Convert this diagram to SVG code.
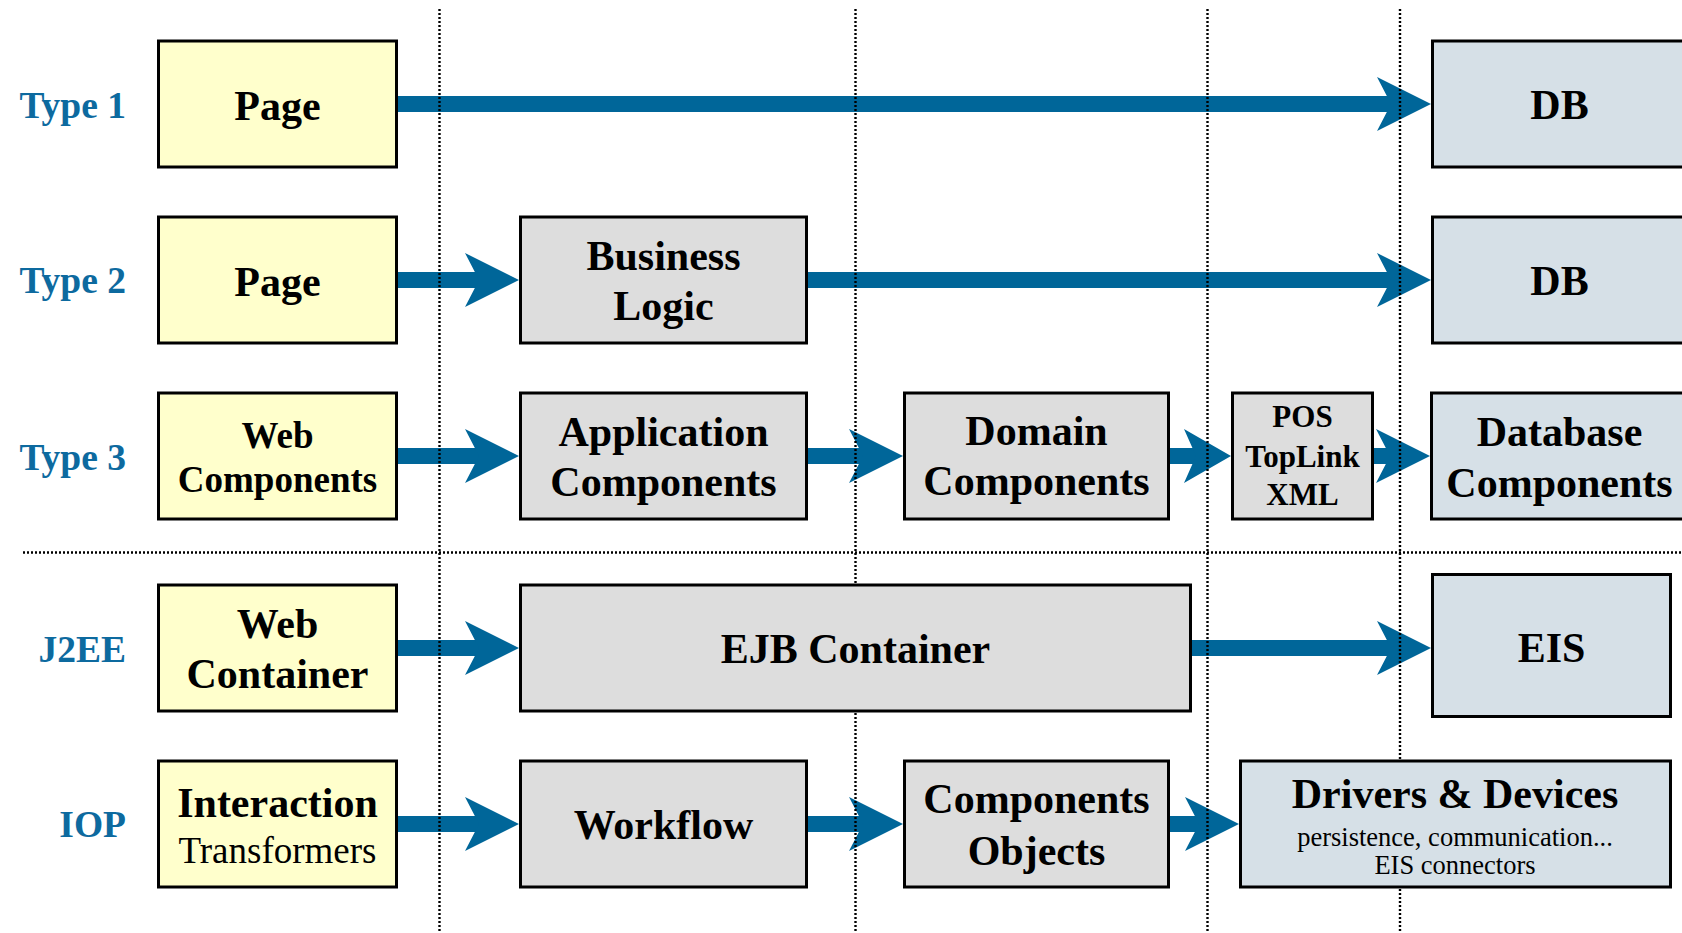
<svg xmlns="http://www.w3.org/2000/svg" width="1682" height="933" viewBox="0 0 1682 933">
  <style>
    .lbl { font-family: "Liberation Serif", "Times New Roman", serif; font-weight: bold; font-size: 37.5px; fill: #0d6a9f; text-anchor: end; }
    .t { font-family: "Liberation Serif", "Times New Roman", serif; font-weight: bold; font-size: 42px; fill: #000; text-anchor: middle; }
    .t37 { font-size: 37px; }
    .t31 { font-size: 31px; }
    .t41 { font-size: 42px; }
    .reg { font-weight: normal; }
    .sub { font-weight: normal; font-size: 26.5px; }
    .box { stroke: #000; stroke-width: 3; }
    .yellow { fill: #ffffcc; }
    .grey { fill: #dddddd; }
    .blue { fill: #d6e0e7; }
    .grid { stroke: #000; stroke-width: 2.4; stroke-dasharray: 2 2; fill: none; }
    .conn { stroke: #006699; stroke-width: 16; fill: none; }
  </style>
  <defs>
    <marker id="head" markerUnits="userSpaceOnUse" viewBox="0 0 54 54" markerWidth="54" markerHeight="54" refX="14" refY="27" orient="auto">
      <path d="M0,0 L54,27 L0,54 L14,27 Z" fill="#006699"/>
    </marker>
    <marker id="head-s" markerUnits="userSpaceOnUse" viewBox="0 0 47 54" markerWidth="47" markerHeight="54" refX="12" refY="27" orient="auto">
      <path d="M0,0 L47,27 L0,54 L12,27 Z" fill="#006699"/>
    </marker>
  </defs>
  <rect width="1682" height="933" fill="#fff"/>

  <!-- row labels -->
  <g id="labels">
    <text class="lbl" x="126" y="118">Type 1</text>
    <text class="lbl" x="126" y="293">Type 2</text>
    <text class="lbl" x="126" y="470">Type 3</text>
    <text class="lbl" x="126" y="662">J2EE</text>
    <text class="lbl" x="126" y="837">IOP</text>
  </g>

  <!-- connectors: each line stops at the arrowhead notch -->
  <g id="connectors" class="conn">
    <line x1="398" y1="104" x2="1391" y2="104" marker-end="url(#head)"/>
    <line x1="398" y1="280" x2="479" y2="280" marker-end="url(#head)"/>
    <line x1="808" y1="280" x2="1391" y2="280" marker-end="url(#head)"/>
    <line x1="398" y1="456" x2="479" y2="456" marker-end="url(#head)"/>
    <line x1="808" y1="456" x2="863" y2="456" marker-end="url(#head)"/>
    <line x1="1170" y1="456" x2="1196" y2="456" marker-end="url(#head-s)"/>
    <line x1="1374" y1="456" x2="1390" y2="456" marker-end="url(#head)"/>
    <line x1="398" y1="648" x2="479" y2="648" marker-end="url(#head)"/>
    <line x1="1192" y1="648" x2="1391" y2="648" marker-end="url(#head)"/>
    <line x1="398" y1="824" x2="479" y2="824" marker-end="url(#head)"/>
    <line x1="808" y1="824" x2="863" y2="824" marker-end="url(#head)"/>
    <line x1="1170" y1="824" x2="1199" y2="824" marker-end="url(#head)"/>
  </g>

  <!-- dotted tier separators -->
  <g id="grid" class="grid">
    <line x1="439.5" y1="9" x2="439.5" y2="933"/>
    <line x1="855.5" y1="9" x2="855.5" y2="933"/>
    <line x1="1207.5" y1="9" x2="1207.5" y2="933"/>
    <line x1="1400" y1="9" x2="1400" y2="933"/>
    <line x1="23" y1="552.5" x2="1682" y2="552.5"/>
  </g>

  <!-- Type 1 -->
  <g id="t1-page">
    <rect class="box yellow" x="158.5" y="41" width="238" height="126"/>
    <text class="t" x="277.5" y="120">Page</text>
  </g>
  <g id="t1-db">
    <rect class="box blue" x="1432.5" y="41" width="260" height="126"/>
    <text class="t" x="1559.5" y="119">DB</text>
  </g>

  <!-- Type 2 -->
  <g id="t2-page">
    <rect class="box yellow" x="158.5" y="217" width="238" height="126"/>
    <text class="t" x="277.5" y="296">Page</text>
  </g>
  <g id="t2-business">
    <rect class="box grey" x="520.5" y="217" width="286" height="126"/>
    <text class="t" x="663.5" y="270">Business</text>
    <text class="t" x="663.5" y="320">Logic</text>
  </g>
  <g id="t2-db">
    <rect class="box blue" x="1432.5" y="217" width="260" height="126"/>
    <text class="t" x="1559.5" y="295">DB</text>
  </g>

  <!-- Type 3 -->
  <g id="t3-web">
    <rect class="box yellow" x="158.5" y="393" width="238" height="126"/>
    <text class="t t37" x="277.5" y="448">Web</text>
    <text class="t t37" x="277.5" y="492">Components</text>
  </g>
  <g id="t3-app">
    <rect class="box grey" x="520.5" y="393" width="286" height="126"/>
    <text class="t" x="663.5" y="446">Application</text>
    <text class="t" x="663.5" y="496">Components</text>
  </g>
  <g id="t3-domain">
    <rect class="box grey" x="904.5" y="393" width="264" height="126"/>
    <text class="t" x="1036.5" y="445">Domain</text>
    <text class="t" x="1036.5" y="495">Components</text>
  </g>
  <g id="t3-pos">
    <rect class="box grey" x="1232.5" y="393" width="140" height="126"/>
    <text class="t t31" x="1302.5" y="427">POS</text>
    <text class="t t31" x="1302.5" y="467">TopLink</text>
    <text class="t t31" x="1302.5" y="505">XML</text>
  </g>
  <g id="t3-database">
    <rect class="box blue" x="1431.5" y="393" width="260" height="126"/>
    <text class="t" x="1559.5" y="446">Database</text>
    <text class="t" x="1559.5" y="497">Components</text>
  </g>

  <!-- J2EE -->
  <g id="j2ee-web">
    <rect class="box yellow" x="158.5" y="585" width="238" height="126"/>
    <text class="t" x="277.5" y="638">Web</text>
    <text class="t" x="277.5" y="688">Container</text>
  </g>
  <g id="j2ee-ejb">
    <rect class="box grey" x="520.5" y="585" width="670" height="126"/>
    <text class="t" x="855.5" y="663">EJB Container</text>
  </g>
  <g id="j2ee-eis">
    <rect class="box blue" x="1432.5" y="574.5" width="238" height="142"/>
    <text class="t" x="1551.5" y="662">EIS</text>
  </g>

  <!-- IOP -->
  <g id="iop-interaction">
    <rect class="box yellow" x="158.5" y="761" width="238" height="126"/>
    <text class="t" x="277.5" y="817">Interaction</text>
    <text class="t t37 reg" x="277.5" y="863">Transformers</text>
  </g>
  <g id="iop-workflow">
    <rect class="box grey" x="520.5" y="761" width="286" height="126"/>
    <text class="t" x="663.5" y="839">Workflow</text>
  </g>
  <g id="iop-components">
    <rect class="box grey" x="904.5" y="761" width="264" height="126"/>
    <text class="t" x="1036.5" y="813">Components</text>
    <text class="t" x="1036.5" y="865">Objects</text>
  </g>
  <g id="iop-drivers">
    <rect class="box blue" x="1240.5" y="761" width="430" height="126"/>
    <text class="t t41" x="1455" y="808">Drivers &amp; Devices</text>
    <text class="t sub" x="1455" y="846">persistence, communication...</text>
    <text class="t sub" x="1455" y="874">EIS connectors</text>
  </g>
</svg>
